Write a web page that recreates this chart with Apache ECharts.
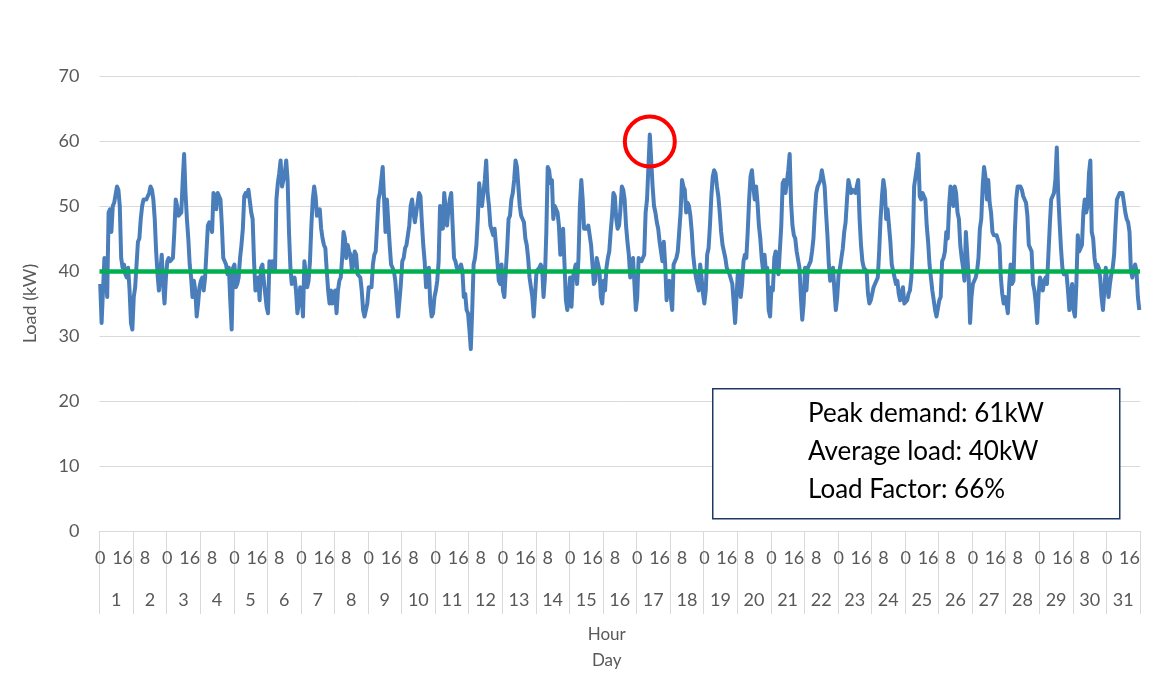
<!DOCTYPE html>
<html>
<head>
<meta charset="utf-8">
<script src="https://cdn.jsdelivr.net/npm/echarts@6/dist/echarts.min.js"></script>
<style>
html,body{margin:0;padding:0;background:#ffffff;}
#chart{width:1168px;height:674px;}
</style>
</head>
<body>
<div id="chart"></div>
<script>
// ---- Data ----
const dayLabels = ['1','2','3','4','5','6','7','8','9','10','11','12','13','14','15','16','17','18','19','20','21','22','23','24','25','26','27','28','29','30','31'];
const hoursOfDay = [0,1,2,3,4,5,6,7,8,9,10,11,12,13,14,15,16,17,18,19,20,21,22,23];

// Hourly load (kW), 31 days x 24 hours, one line per day
const hourlyLoad = [
38,32,37,42,40,36,49,49.5,46,50,50.5,50.5,53,52.5,50,42,40.5,41,39.5,39,40.5,37,32,31,
36,37.5,41,44.5,45,48,50,51,51,51,51,52,53,52.5,51,48,43,39.5,37,40,42.5,38,35,39,
41.5,42,41.5,41.5,42,46,51,50,48.5,48.5,49,54,58,52,48,45,41,39,36,38.5,37,33,35,37.5,
38.5,39,37,39,43,47,47.5,47,46,52,51,49.5,52,52,51,47,42,42,41,39.5,40.5,35.5,31,40.5,
41,37.5,38,39,42,44,46.5,51.5,52,51.5,52.5,52.5,49,48,41.5,37,37.5,39,35.5,40.5,41,38.5,36.5,34.5,
33.5,41.5,40,41.5,40.5,40,51,53.5,55,57,53,53,55,57,54,46,40.5,38,38.5,39,37,33.5,35,37.5,
36.5,33,41.5,41.5,37.5,38.5,41.5,47,51,53,51.5,48.5,49,49.5,46.5,45,44,43.5,40,37,35,37,35,36,
37,33.5,37,38.5,39,42,46,45,42,44,43,42.5,40,41,43,42.5,39.5,39.5,39,37,34,33,33,35,
37.5,37.5,37.5,41,42.5,43,47,51,52,52,56,56,46,51,51,44,41,41,40,38.5,38.5,33,33,38,
41.5,42,43.5,44,45.5,47,50,51,49,47.5,49,50.5,52,51.5,47.5,44,41.5,37.5,38,40.5,35,33,33.5,36,
37,38.5,41.5,50,49.5,46.5,52,52,47,49.5,51,52,47,42,41.5,40.5,40,40.5,41,40,36,36.5,34,33.5,
31,28,34,41,42,44,48,53.5,51,50,50,54,57,52,50,47,47,45.5,46.5,44,41.5,38.5,38,41,
37,36,40,43.5,48,48.5,51,52,54,57,56,53,50,48.5,48,47.5,45,44,42,39,37.5,36,33,36.5,
40,40,40.5,41,40.5,36,39,46,56,55.5,53.5,54,48,50,50,49,47,42.5,44,46.5,41,35.5,34,36,
39,34.5,39,39,41,38,42,50,54,51,46.5,46.5,46.5,47,45.5,44,41,38,38.5,42,42,40,36,35,
38.5,37,40.5,42,43,46,48.5,52,51.5,48,46.5,47,49.5,53,52.5,51,47,44.5,42.5,39,40.5,42,38,34,
36,42,42,41.5,41.5,42.5,49,51,56,61,57,53,50,49,47.5,46.5,44.5,43,41.5,44.5,41,35.5,38,38.5,
36,34,41,41.5,42,43,46,49,54,53,52.5,49,50.5,50,48.5,46,42.5,40.5,39,38,37,41,39,36.5,
35,37,42.5,43.5,47,51.5,54.5,55.5,55,53,51.5,49,46,44,43,42,40.5,40,39.5,39.5,38,35,32,36,
40,39.5,36,38,41.5,42.5,42,46,51,54.5,55.5,53,51,53,50.5,47,45,42,40,42.5,40,40.5,34,33,
37.5,37,42,43,40,39.5,39.5,47,53.5,54,52,52,55.5,58,50.5,47,45.5,45,43,43,40.5,36,32.5,35,
40.5,37,40.5,41,41.5,43,45,49,52,53,53,54,55.5,55.5,53,49,45.5,41,38.5,39.5,40.5,37,34,36,
39.5,40.5,40.5,43.5,46,47.5,51,54,53,52,52.5,52.5,52,53,54,48,44,41.5,40.5,40.5,40,36.5,35,35.5,
35.5,37.5,38,38,39,43,48,51.5,54,52.5,48,49.5,47,44.5,41,40,39,38,38.5,36.5,35.5,36.5,37.5,35,
35,35.5,36.5,37,39,44,53,54.5,56,58,51.5,51,52,52,51,47,44.5,41,41,37,37,34,33,33,
35.5,36,41.5,42,43,46,45,50,53,52,50,53,52,49,48,44,42,40.5,38.5,46,46,39,32,36,
38,38,39,40,42,46.5,48,53,56,54.5,51,54,50.5,49,46,45.5,45.5,45.5,45.5,44,39,36.5,35,36,
35,33.5,38,41,38,38.5,46,51,53,53,53,52.5,51.5,51,50.5,48.5,44,44,43,38,37,35,32,36.5,
39,38,37,38.5,39,38,42.5,47,51,51.5,52,54,59,52,47.5,43.5,40.5,39.5,39.5,39.5,37,34,34,38,
34,33,38,45.5,43,43.5,44,49,51,49,50,55,57,46,45,42,40.5,41,40.5,39,36,34,37,40.5,
40.5,36,38,39.5,40.5,42.5,47,51,51.5,52,52,52,52,49,48,47.5,46,40,39,39,41,40,36,34
];

const peakDemand = 61;   // kW
const averageLoad = 40;  // kW
const loadFactor = 66;   // %
const noteLines = ['Peak demand: ' + peakDemand + 'kW', 'Average load: ' + averageLoad + 'kW', 'Load Factor: ' + loadFactor + '%'];

// ---- Build ----
const hourCategories = [];
for (let d = 0; d < dayLabels.length; d++) {
  for (let h = 0; h < hoursOfDay.length; h++) hourCategories.push(d + '-' + hoursOfDay[h]);
}
const peakIndex = hourlyLoad.indexOf(Math.max.apply(null, hourlyLoad));

const FONT = 'Lato, "Open Sans", sans-serif';
const GREY = '#595959';
const LINE = '#d9d9d9';

const chart = echarts.init(document.getElementById('chart'), null, {renderer: 'canvas'});
chart.setOption({
  animation: false,
  backgroundColor: '#ffffff',
  grid: {left: 99.5, right: 28, top: 76, bottom: 142, containLabel: false},
  xAxis: [
    {
      type: 'category',
      data: hourCategories,
      boundaryGap: true,
      position: 'bottom',
      axisLine: {show: true, lineStyle: {color: LINE, width: 1}},
      axisTick: {show: false},
      axisLabel: {
        interval: 15, margin: 18, color: GREY, fontSize: 18, fontFamily: FONT,
        formatter: function (v, idx) { return String(hoursOfDay[idx % 24]); }
      },
      splitLine: {show: false},
      name: 'Hour', nameLocation: 'middle', nameGap: 95,
      nameTextStyle: {color: GREY, fontSize: 17, fontFamily: FONT, padding: [0, 26, 0, 0]}
    },
    {
      type: 'category',
      data: dayLabels,
      boundaryGap: true,
      position: 'bottom',
      axisLine: {show: false},
      axisTick: {show: true, length: 83, lineStyle: {color: LINE, width: 1}},
      axisLabel: {interval: 0, margin: 60, color: GREY, fontSize: 18, fontFamily: FONT},
      splitLine: {show: false},
      name: 'Day', nameLocation: 'middle', nameGap: 121,
      nameTextStyle: {color: GREY, fontSize: 17, fontFamily: FONT, padding: [0, 26, 0, 0]}
    }
  ],
  yAxis: {
    type: 'value', min: 0, max: 70, interval: 10,
    axisLine: {show: false}, axisTick: {show: false},
    axisLabel: {color: GREY, fontSize: 18, fontFamily: FONT, margin: 20},
    splitLine: {lineStyle: {color: LINE, width: 1}},
    name: 'Load (kW)', nameLocation: 'middle', nameGap: 60, nameRotate: 90,
    nameTextStyle: {color: GREY, fontSize: 18, fontFamily: FONT}
  },
  series: [{
    type: 'line',
    xAxisIndex: 0,
    data: hourlyLoad,
    symbol: 'none',
    lineStyle: {color: '#4a7ebb', width: 4, join: 'round'},
    itemStyle: {color: '#4a7ebb'},
    markLine: {
      silent: true, symbol: ['none', 'none'],
      label: {show: false},
      lineStyle: {color: '#00b050', width: 4.5, type: 'solid'},
      data: [{yAxis: averageLoad}]
    },
    markPoint: {
      silent: true,
      symbol: 'circle', symbolSize: 50, symbolOffset: [0, 7],
      itemStyle: {color: 'rgba(0,0,0,0)', borderColor: '#ff0000', borderWidth: 4},
      label: {show: false},
      data: [{coord: [peakIndex, hourlyLoad[peakIndex]]}]
    }
  }],
  graphic: [
    {type: 'rect', left: 712, top: 388, shape: {width: 407, height: 130},
     style: {fill: '#ffffff', stroke: '#203864', lineWidth: 1.5}, z: 100},
    {type: 'text', left: 808, top: 401, z: 101,
     style: {text: noteLines[0], fill: '#000000', font: '26px ' + FONT}},
    {type: 'text', left: 808, top: 439, z: 101,
     style: {text: noteLines[1], fill: '#000000', font: '26px ' + FONT}},
    {type: 'text', left: 808, top: 477, z: 101,
     style: {text: noteLines[2], fill: '#000000', font: '26px ' + FONT}}
  ]
});
</script>
</body>
</html>
